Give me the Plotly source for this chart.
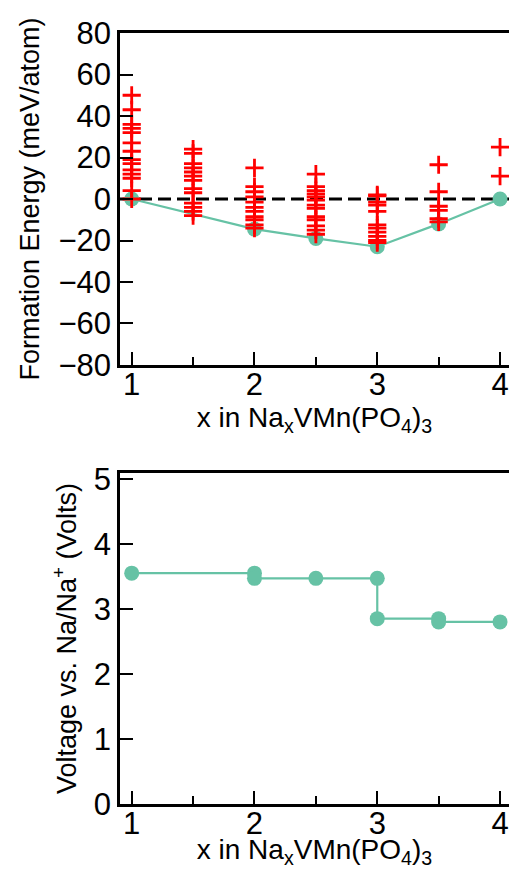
import plotly.graph_objects as go

# ---------------- data ----------------
# Formation energies (meV/atom) of enumerated configurations
cfg_x1 = [1.0]
cfg_e1 = [50, 43, 36, 34, 32, 27, 23, 19, 17, 14, 12, 10, 4, 0]
cfg_x15 = [1.5]
cfg_e15 = [24, 22, 17, 15, 13, 11, 9, 5, 3, -2, -4, -6, -8]
cfg_x2 = [2.0]
cfg_e2 = [15, 6, 3.5, 1, -1.5, -4, -6, -8.5, -10, -12.5, -14]
cfg_x25 = [2.5]
cfg_e25 = [12, 6, 4, 2.5, 1, -0.5, -3, -4.5, -8.5, -10, -13, -15, -17]
cfg_x3 = [3.0]
cfg_e3 = [2, 1.5, -1.5, -3, -6, -12.5, -14, -16, -18, -20, -21]
cfg_x35 = [3.5]
cfg_e35 = [16.5, 3.5, -3.5, -5.5, -9.5, -11]
cfg_x4 = [4.0]
cfg_e4 = [25, 11]

# Convex hull
hull_x = [1, 2, 2.5, 3, 3.5, 4]
hull_e = [0, -14.5, -19, -23, -12, 0]

# Voltage profile
volt_x = [1, 2, 2, 2.5, 3, 3, 3.5, 3.5, 4]
volt_v = [3.55, 3.55, 3.47, 3.47, 3.47, 2.85, 2.85, 2.80, 2.80]

x_ticks = [1, 2, 3, 4]
e_ticks = [-80, -60, -40, -20, 0, 20, 40, 60, 80]
v_ticks = [0, 1, 2, 3, 4, 5]

GREEN = "#66c2a5"
RED = "#ff0000"
FONT = "Liberation Sans, Arial, Helvetica, sans-serif"

cross_x, cross_e = [], []
for xs, es in [(cfg_x1, cfg_e1), (cfg_x15, cfg_e15), (cfg_x2, cfg_e2),
               (cfg_x25, cfg_e25), (cfg_x3, cfg_e3), (cfg_x35, cfg_e35),
               (cfg_x4, cfg_e4)]:
    for e in es:
        cross_x.append(xs[0])
        cross_e.append(e)

fig = go.Figure()

fig.add_trace(go.Scatter(
    x=hull_x, y=hull_e, mode="lines+markers", xaxis="x", yaxis="y",
    line=dict(color=GREEN, width=2.2),
    marker=dict(color=GREEN, size=15), showlegend=False))

fig.add_trace(go.Scatter(
    x=cross_x, y=cross_e, mode="markers", xaxis="x", yaxis="y",
    marker=dict(symbol="cross-thin", size=13,
                line=dict(color=RED, width=2.8)),
    showlegend=False))

fig.add_trace(go.Scatter(
    x=volt_x, y=volt_v, mode="lines+markers", xaxis="x2", yaxis="y2",
    line=dict(color=GREEN, width=2.2),
    marker=dict(color=GREEN, size=15), showlegend=False))

fig.add_shape(type="line", xref="x domain", yref="y", x0=0, x1=1, y0=0, y1=0,
              line=dict(color="black", width=3, dash="13px,6px"), layer="below")

XR = [0.9047, 4.073]
sub = "x in Na<sub>x</sub>VMn(PO<sub>4</sub>)<sub>3</sub>"

common_x = dict(
    range=XR, tickvals=x_ticks, ticks="inside", ticklen=13, tickwidth=2,
    tickcolor="black", showline=True, linecolor="black", linewidth=2.5,
    showgrid=False, zeroline=False, mirror=True, ticklabelstandoff=-10,
    tickfont=dict(size=31, color="black", family=FONT),
    minor=dict(tickvals=[1.5, 2.5, 3.5], ticks="inside", ticklen=8,
               tickwidth=2, tickcolor="black", showgrid=False),
)

# page body has an 8px margin, so the figure is offset by 8px
fig.update_layout(
    width=501, height=861,
    margin=dict(l=112, r=0, t=25, b=65),
    paper_bgcolor="white", plot_bgcolor="white",
    font=dict(family=FONT, color="black"),
    xaxis=dict(**common_x, anchor="y",
               title=dict(text=sub, font=dict(size=28), standoff=4)),
    yaxis=dict(domain=[0.5694, 1.0], range=[-80, 80], tickvals=e_ticks,
               ticks="inside", ticklen=13, tickwidth=2, tickcolor="black",
               showline=True, linecolor="black", linewidth=2.5,
               showgrid=False, zeroline=False, anchor="x",
               tickfont=dict(size=31, color="black", family=FONT),
               title=dict(text="Formation Energy (meV/atom)",
                          font=dict(size=27), standoff=11)),
    xaxis2=dict(**common_x, anchor="y2",
                title=dict(text=sub, font=dict(size=28), standoff=4)),
    yaxis2=dict(domain=[0.0, 0.4293], range=[0, 5.09], tickvals=v_ticks,
                ticks="inside", ticklen=13, tickwidth=2, tickcolor="black",
                showline=True, linecolor="black", linewidth=2.5,
                showgrid=False, zeroline=False, anchor="x2",
                tickfont=dict(size=31, color="black", family=FONT),
                title=dict(text="Voltage vs. Na/Na<sup>+</sup> (Volts)",
                           font=dict(size=27), standoff=10)),
)

fig.write_html("out.html")
